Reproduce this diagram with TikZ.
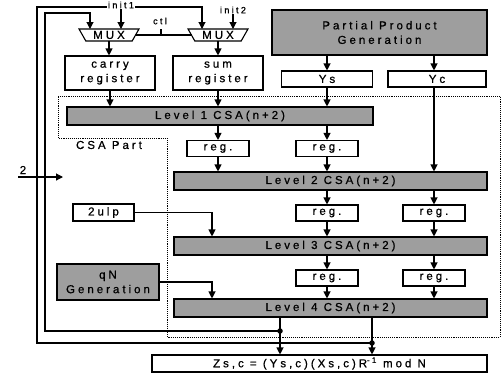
\documentclass[tikz,border=0pt]{standalone}
\usepackage{fontspec}
\setmainfont{Liberation Sans}[LetterSpace=26,FakeBold=0.8]
\usetikzlibrary{arrows.meta,shapes.geometric,calc}
\begin{document}
\begin{tikzpicture}[x=1pt,y=-1pt,
  lw/.style={line width=1.1pt},
  box/.style={draw,lw,fill=white,inner sep=0pt,align=center},
  gbox/.style={box,fill=black!38},
  arr/.style={lw,-{Triangle[length=7pt,width=7pt]}},
  ln/.style={lw},
  muxs/.style={draw,lw,trapezium,shape border rotate=180,trapezium angle=60,
    trapezium stretches=true,minimum width=60pt,minimum height=12pt,inner sep=0pt},
  regb/.style={box,minimum width=62pt,minimum height=16pt},
  lev/.style={gbox,minimum width=313pt,minimum height=18pt},
  lbl/.style={inner sep=0pt},
  slbl/.style={inner sep=0.6pt,font=\fontsize{9}{11}\selectfont},
  dot/.style={circle,fill=black,inner sep=0pt,minimum size=5.5pt},
  font=\fontsize{11.5}{14.5}\selectfont]
\useasboundingbox (0,0) rectangle (501,378);

% CSA part region
\draw[densely dotted,line width=0.9pt] (58,96) -- (500,96) -- (500,337) -- (167,337)
  -- (167,138) -- (58,138) -- cycle;
\node[lbl] (csa) at (109,145) {CSA Part};

% MUXes
\node[muxs] (mux1) at (109,35) {MUX};
\node[muxs] (mux2) at (218,35) {MUX};
\coordinate (m1t) at ($(mux1.center)+(0,-6)$);
\coordinate (m1b) at ($(mux1.center)+(0,6)$);
\coordinate (m2t) at ($(mux2.center)+(0,-6)$);
\coordinate (m2b) at ($(mux2.center)+(0,6)$);
\coordinate (m1r) at ($(mux1.center)+(26.5,0)$);
\coordinate (m2l) at ($(mux2.center)+(-26.5,0)$);

% outputs and feedback (drawn first so labels sit above)
\coordinate (d1) at (280,331);
\coordinate (d2) at (372,343);
\coordinate (iL) at (45,13);
\coordinate (oL) at (37,7);
\draw[arr] (d1) -| (iL) -| ($(m1t)+(-19,0)$);
\draw[arr] (d2) -| (oL) -| ($(m2t)+(-16,0)$);

\node[slbl,fill=white] (init1) at (121,5) {init1};
\node[slbl] (init2) at (233,10) {init2};
\node[slbl] (ctl) at (160,21) {ctl};

% boxes
\node[box,minimum width=90pt,minimum height=34pt] (carry) at (110,73) {carry\\register};
\node[box,minimum width=90pt,minimum height=34pt] (sumr) at (218,73) {sum\\register};
\node[gbox,minimum width=215pt,minimum height=45pt] (ppg) at (379.5,32.5) {Partial Product\\Generation};
\node[box,minimum width=91pt,minimum height=16pt] (ys) at (327,79) {Ys};
\node[box,minimum width=98pt,minimum height=16pt] (yc) at (437,79) {Yc};
\node[gbox,minimum width=306pt,minimum height=18pt] (l1) at (220,116) {Level 1 CSA(n+2)};
\node[regb] (r1a) at (218,148.5) {reg.};
\node[regb] (r1b) at (327,148.5) {reg.};
\node[lev] (l2) at (330.5,181) {Level 2 CSA(n+2)};
\node[box,minimum width=61pt,minimum height=17pt] (ulp) at (103.5,212.5) {2ulp};
\node[regb] (r2a) at (327,213) {reg.};
\node[regb] (r2b) at (434,213) {reg.};
\node[lev] (l3) at (330.5,246) {Level 3 CSA(n+2)};
\node[gbox,minimum width=102pt,minimum height=36pt] (qn) at (108,282) {qN\\Generation};
\node[regb] (r3a) at (327,278) {reg.};
\node[regb] (r3b) at (434,278) {reg.};
\node[lev] (l4) at (330.5,308) {Level 4 CSA(n+2)};
\node[box,minimum width=335pt,minimum height=17pt] (z) at (319.5,363.5) {Zs,c = (Ys,c)(Xs,c)R\textsuperscript{-1} mod N};

% mux inputs
\draw[arr] (init1.south) -- (init1.south |- m1t);
\draw[arr] (init2.south) -- (init2.south |- m2t);
\draw[ln] (m1r) -- (m2l);
\coordinate (ctlt) at (161,35);
\draw[ln] (ctlt) -- ++(0,-6);

% mux outputs
\draw[arr] (m1b) -- (m1b |- carry.north);
\draw[arr] (m2b) -- (m2b |- sumr.north);

% into level 1
\draw[arr] (carry.south) -- (carry.south |- l1.north);
\draw[arr] (sumr.south) -- (sumr.south |- l1.north);
\draw[arr] (ppg.south -| ys) -- (ys.north);
\draw[arr] (ppg.south -| r2b) -- (r2b |- yc.north);
\draw[arr] (ys.south) -- (ys.south |- l1.north);
\draw[arr] (r2b |- yc.south) -- (r2b |- l2.north);

% level 1 -> regs -> level 2
\draw[arr] (l1.south -| r1a) -- (r1a.north);
\draw[arr] (l1.south -| r1b) -- (r1b.north);
\draw[arr] (r1a.south) -- (r1a.south |- l2.north);
\draw[arr] (r1b.south) -- (r1b.south |- l2.north);

% level 2 -> regs -> level 3
\draw[arr] (l2.south -| r2a) -- (r2a.north);
\draw[arr] (l2.south -| r2b) -- (r2b.north);
\draw[arr] (r2a.south) -- (r2a.south |- l3.north);
\draw[arr] (r2b.south) -- (r2b.south |- l3.north);

% level 3 -> regs -> level 4
\draw[arr] (l3.south -| r3a) -- (r3a.north);
\draw[arr] (l3.south -| r3b) -- (r3b.north);
\draw[arr] (r3a.south) -- (r3a.south |- l4.north);
\draw[arr] (r3b.south) -- (r3b.south |- l4.north);

% injections
\coordinate (injx) at (212,0);
\draw[arr] (ulp.east) -| (injx |- l3.north);
\draw[arr] (qn.east) -| (injx |- l4.north);

% level 4 outputs
\draw[arr] (d1 |- l4.south) -- (d1 |- z.north);
\draw[arr] (d2 |- l4.south) -- (d2 |- z.north);
\node[dot] (dot1) at (d1) {};
\node[dot] (dot2) at (d2) {};

% input 2
\coordinate (twoA) at (18,177);
\coordinate (twoB) at (63,177);
\draw[arr] (twoA) -- (twoB);
\node[lbl] (two) at (23,170) {2};
\end{tikzpicture}
\end{document}
